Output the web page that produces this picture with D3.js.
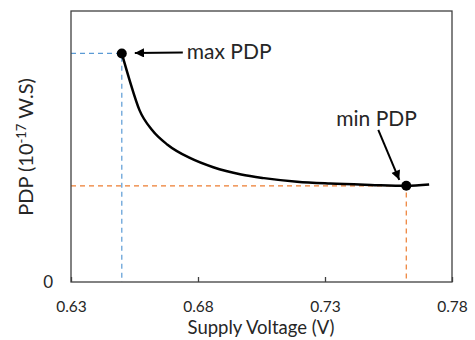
<!DOCTYPE html>
<html>
<head>
<meta charset="utf-8">
<script src="https://cdn.jsdelivr.net/npm/d3@7"></script>
<style>
  body { margin: 0; background: #fff; }
  svg text { font-family: Lato, "Open Sans", sans-serif; fill: #262626; }
</style>
</head>
<body>
<svg id="chart" width="475" height="340"></svg>
<script>
// ---- data ----
const supplyVoltage = [0.650, 0.653, 0.657, 0.662, 0.668, 0.677, 0.686, 0.697, 0.706, 0.719, 0.732, 0.748, 0.762, 0.771];
const pdpValues     = [2.53, 2.24, 1.90, 1.68, 1.52, 1.37, 1.27, 1.19, 1.15, 1.11, 1.09, 1.075, 1.065, 1.08];
const xTicks = [0.63, 0.68, 0.73, 0.78];
const yTicks = [0];
const maxPoint = { v: 0.650, p: 2.53, label: "max PDP" };
const minPoint = { v: 0.762, p: 1.065, label: "min PDP" };
const xTitle = "Supply Voltage (V)";

// ---- layout ----
const W = 475, H = 340;
const m = { top: 11, right: 23, bottom: 58, left: 71 };
const svg = d3.select("#chart");
const x = d3.scaleLinear().domain([0.63, 0.78]).range([m.left, W - m.right]);
const y = d3.scaleLinear().domain([0, 3.0]).range([H - m.bottom, m.top]);

const defs = svg.append("defs");
defs.append("marker").attr("id", "arr").attr("viewBox", "0 0 10 10")
  .attr("refX", 10).attr("refY", 5).attr("markerWidth", 6).attr("markerHeight", 4.6)
  .attr("orient", "auto").attr("markerUnits", "strokeWidth")
  .append("path").attr("d", "M0,0 L10,5 L0,10 Z").attr("fill", "#000");

// dashed guide lines
const blue = "#5b9bd5", orange = "#ed7d31";
svg.append("path").attr("fill", "none").attr("stroke", blue).attr("stroke-width", 1.2)
  .attr("stroke-dasharray", "5,4")
  .attr("d", `M${x(0.63)},${y(maxPoint.p)}H${x(maxPoint.v)}V${y(0)}`);
svg.append("path").attr("fill", "none").attr("stroke", orange).attr("stroke-width", 1.2)
  .attr("stroke-dasharray", "5,4")
  .attr("d", `M${x(0.63)},${y(minPoint.p)}H${x(minPoint.v)}V${y(0)}`);

// axes
const xAxis = svg.append("g").attr("transform", `translate(0,${y(0)})`)
  .call(d3.axisBottom(x).tickValues(xTicks).tickFormat(d3.format(".2f")).tickSize(-5).tickPadding(19));
xAxis.select(".domain").remove();
xAxis.selectAll(".tick line").attr("stroke", "#404040").attr("stroke-width", 1.3);
xAxis.selectAll("text").attr("font-size", 15.5).attr("fill", "#262626").attr("font-family", "Lato");

const yAxis = svg.append("g").attr("transform", `translate(${x(0.63)},0)`)
  .call(d3.axisLeft(y).tickValues(yTicks).tickFormat(d3.format("d")).tickSize(0).tickPadding(18));
yAxis.select(".domain").remove();
yAxis.selectAll("text").attr("font-size", 17).attr("fill", "#262626").attr("font-family", "Lato");

// frame
svg.append("rect").attr("x", x(0.63)).attr("y", y(3.0))
  .attr("width", x(0.78) - x(0.63)).attr("height", y(0) - y(3.0))
  .attr("fill", "none").attr("stroke", "#404040").attr("stroke-width", 1.3);

// curve
const data = supplyVoltage.map((v, i) => ({ v, p: pdpValues[i] }));
svg.append("path").datum(data).attr("fill", "none").attr("stroke", "#000").attr("stroke-width", 2.5)
  .attr("d", d3.line().x(d => x(d.v)).y(d => y(d.p)).curve(d3.curveMonotoneX));

// points
svg.selectAll("circle.pt").data([maxPoint, minPoint]).join("circle")
  .attr("cx", d => x(d.v)).attr("cy", d => y(d.p)).attr("r", 5).attr("fill", "#000");

// annotations
svg.append("line").attr("x1", x(maxPoint.v) + 61).attr("y1", y(maxPoint.p) - 1)
  .attr("x2", x(maxPoint.v) + 13).attr("y2", y(maxPoint.p) - 0.5)
  .attr("stroke", "#000").attr("stroke-width", 2).attr("marker-end", "url(#arr)");
svg.append("text").attr("x", x(maxPoint.v) + 65).attr("y", y(maxPoint.p) + 5.5)
  .attr("font-size", 21).text(maxPoint.label);

svg.append("line").attr("x1", x(minPoint.v) - 28).attr("y1", y(minPoint.p) - 56)
  .attr("x2", x(minPoint.v) - 7).attr("y2", y(minPoint.p) - 6)
  .attr("stroke", "#000").attr("stroke-width", 2).attr("marker-end", "url(#arr)");
svg.append("text").attr("x", x(minPoint.v) - 70).attr("y", y(minPoint.p) - 60)
  .attr("font-size", 21).text(minPoint.label);

// axis titles
svg.append("text").attr("x", 261).attr("y", 334)
  .attr("text-anchor", "middle").attr("font-size", 18.5).text(xTitle);

const yt = svg.append("text").attr("transform", "translate(33,147) rotate(-90)")
  .attr("text-anchor", "middle").attr("font-size", 20);
yt.append("tspan").text("PDP (10");
yt.append("tspan").attr("font-size", 13).attr("dy", -7).text("-17");
yt.append("tspan").attr("dy", 7).text(" W.S)");
</script>
</body>
</html>
